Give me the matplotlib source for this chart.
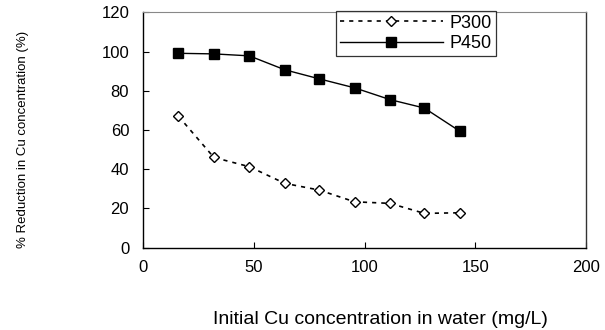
import matplotlib
matplotlib.use('Agg')
import matplotlib.pyplot as plt

# Initial Cu concentration (mg/L)
conc = [16, 32, 48, 64, 79.5, 95.5, 111.5, 127, 143]
# % reduction in Cu concentration
p300 = [67.0, 46.0, 41.3, 32.8, 29.4, 23.4, 22.6, 17.5, 17.8]
p450 = [99.1, 98.8, 97.8, 90.7, 86.1, 81.5, 75.5, 71.2, 59.4]

xticks = [0, 50, 100, 150, 200]
yticks = [0, 20, 40, 60, 80, 100, 120]

plt.rcParams['font.family'] = ['Liberation Sans', 'DejaVu Sans']

fig = plt.figure(figsize=(6.05, 3.3), dpi=100)
ax = fig.add_axes([0.2364, 0.2494, 0.7322, 0.7133])

ax.plot(conc, p300, color='black', linestyle=(0, (2.5, 3)), linewidth=1.2,
        marker='D', markersize=5.5, markerfacecolor='white',
        markeredgecolor='black', markeredgewidth=1.0, label='P300')
ax.plot(conc, p450, color='black', linestyle='-', linewidth=1.0,
        marker='s', markersize=7.5, markerfacecolor='black',
        markeredgecolor='black', label='P450')

ax.set_xlim(0, 200)
ax.set_ylim(0, 120)
ax.set_xticks(xticks)
ax.set_yticks(yticks)
ax.tick_params(direction='in', length=4, width=0.8, labelsize=12, pad=9)
ax.tick_params(axis='y', pad=10)

for sp in ax.spines.values():
    sp.set_linewidth(1.0)
ax.spines['top'].set_color('#888888')
ax.spines['top'].set_linewidth(0.8)
ax.spines['right'].set_color('#333333')

ax.set_xlabel('Initial Cu concentration in water (mg/L)', fontsize=14, va='center')
ax.xaxis.set_label_coords(0.535, -0.303)
ax.set_ylabel('% Reduction in Cu concentration (%)', fontsize=9.5, va='center')
ax.yaxis.set_label_coords(-0.271, 0.462)

leg = ax.legend(loc='upper left', bbox_to_anchor=(0.436, 1.005), fontsize=13,
                frameon=True, fancybox=False, shadow=False, handlelength=5.7,
                borderpad=0.2, labelspacing=0.2, handletextpad=0.4,
                borderaxespad=0)
leg.get_frame().set_edgecolor('black')
leg.get_frame().set_linewidth(0.9)

fig.savefig('out.png', dpi=100)
